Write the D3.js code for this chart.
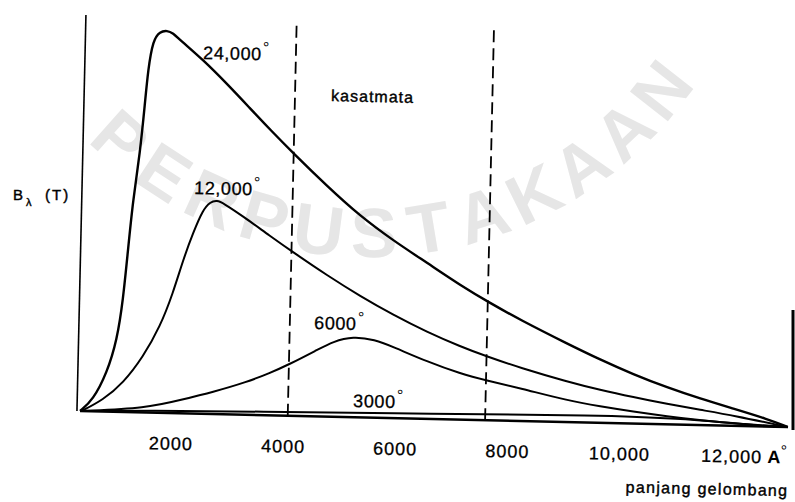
<!DOCTYPE html>
<html>
<head>
<meta charset="utf-8">
<script src="https://cdn.jsdelivr.net/npm/d3@7"></script>
<style>
body { margin: 0; background: #fff; }
svg { display: block; font-family: "Liberation Sans", Arial, sans-serif; }
</style>
</head>
<body>
<svg id="chart"></svg>
<script>
// Planck curves B_lambda(T)
// [wavelength in angstrom, intensity in arbitrary units]
var curve24000 = [[375, 0], [600, 2.8], [840, 9.7], [1006, 18], [1097, 28], [1165, 40.5],
    [1234, 53], [1340, 64.8], [1409, 77.4], [1450, 85.6], [1527, 93.2], [1648, 95.3],
    [1773, 95.6], [1880, 95], [2008, 93.3], [2425, 88.5], [2864, 82.6], [3285, 76.6],
    [3651, 71.4], [4068, 65.7], [4689, 57.6], [5290, 50.3], [5888, 44.4], [6503, 39],
    [7102, 33.6], [7643, 29.3], [8184, 25.3], [9033, 19.6], [9627, 15.8], [10223, 12.3],
    [10835, 9.2], [11428, 6.6], [12019, 4.3], [12630, 1.9], [13000, 0]];
var curve12000 = [[400, 0], [780, 2.9], [1131, 7.2], [1477, 13.9], [1767, 21.5], [1985, 30],
    [2151, 38.3], [2319, 45.2], [2486, 51], [2609, 53], [2734, 53.4], [2841, 52.8],
    [3203, 49.6], [3694, 44.8], [4109, 40.9], [4726, 35.3], [5324, 30.3], [5920, 25.8],
    [6531, 21.7], [7127, 18.3], [7612, 15.9], [8204, 13.3], [9048, 10.1], [9640, 8.2],
    [10231, 6.6], [10840, 5.1], [11432, 3.8], [12022, 2.6], [13000, 0]];
var curve6000 = [[400, 0], [1568, 1.1], [2154, 3.3], [2739, 5.5], [3341, 8.2], [3747, 10.6],
    [4066, 12.7], [4577, 16.6], [4858, 18.8], [5213, 20.2], [5600, 19.5], [5932, 17.8],
    [6544, 14.3], [7137, 11.5], [7621, 9.9], [8213, 8.2], [9057, 5.4], [9647, 4.1],
    [10237, 3], [10846, 2], [11436, 1.2], [12200, 0.5], [13000, 0]];
var curve3000 = [[400, 0], [1620, 0.5], [3400, 0.85], [6700, 1.3], [9600, 1.9],
    [11080, 1.6], [12560, 0.1], [13000, 0]];
var tempLabels = ["24,000", "12,000", "6000", "3000"];
var xTicks = [2000, 4000, 6000, 8000, 10000, 12000];
var visibleBand = [4080, 7600]; // kasatmata limits
var stampText = "PERPUSTAKAAN";

var width = 795, height = 502;

var svg = d3.select("#chart")
    .attr("width", width)
    .attr("height", height);

// faint library stamp behind the figure
var stamp = { cx: 368, cy: -140, r: 372, start: 131.6, step: 8.5 };
svg.append("g")
    .selectAll("text")
    .data(stampText.split(""))
    .enter()
    .append("text")
    .attr("transform", function (d, i) {
        var a = (stamp.start - stamp.step * i) * Math.PI / 180;
        var px = stamp.cx + stamp.r * Math.cos(a);
        var py = stamp.cy + stamp.r * Math.sin(a);
        return "translate(" + px + "," + py + ") rotate(" + (stamp.start - stamp.step * i - 90) + ")";
    })
    .attr("text-anchor", "middle")
    .attr("dy", "0.36em")
    .style("font-size", "70px")
    .style("font-weight", "bold")
    .style("fill", "#e6e6e6")
    .text(function (d) { return d; });

// the scan is tilted a little, so the whole plot is drawn in a rotated group
var g = svg.append("g")
    .attr("transform", "translate(80,411) rotate(1.3)");

var x = d3.scaleLinear().domain([0, 13000]).range([-21, 708]);
var y = d3.scaleLinear().domain([0, 100]).range([0, -400]);

// axes
g.append("line")
    .attr("x1", x(375)).attr("x2", x(13000))
    .attr("y1", y(0)).attr("y2", y(0))
    .style("stroke", "#000")
    .style("stroke-width", 2.5);
g.append("line")
    .attr("x1", x(320)).attr("x2", x(320))
    .attr("y1", y(0)).attr("y2", y(99))
    .style("stroke", "#000")
    .style("stroke-width", 1.6);

var xaxis = d3.axisBottom(x)
    .tickValues(xTicks)
    .tickSize(0)
    .tickPadding(24)
    .tickFormat(function (d) { return d >= 10000 ? d3.format(",")(d) : d; });
var gx = g.append("g").call(xaxis);
gx.select(".domain").remove();
gx.selectAll("text")
    .style("font-family", "Liberation Sans, Arial, sans-serif")
    .style("font-size", "18px")
    .style("letter-spacing", "1px")
    .style("fill", "#000")
    .style("stroke", "#000")
    .style("stroke-width", 0.3);

// visible band limits
g.selectAll("line.band")
    .data(visibleBand)
    .enter()
    .append("line")
    .attr("class", "band")
    .attr("x1", function (d) { return x(d); })
    .attr("x2", function (d) { return x(d); })
    .attr("y1", y(0))
    .attr("y2", y(98.5))
    .style("stroke", "#000")
    .style("stroke-width", 1.8)
    .style("stroke-dasharray", "12,6");

// curves
var line = d3.line()
    .x(function (d) { return x(d[0]); })
    .y(function (d) { return y(d[1]); })
    .curve(d3.curveBasis);

var curves = [curve24000, curve12000, curve6000, curve3000];
g.selectAll("path.curve")
    .data(curves)
    .enter()
    .append("path")
    .attr("class", "curve")
    .attr("d", line)
    .style("fill", "none")
    .style("stroke", "#000")
    .style("stroke-width", function (d, i) { return i == 0 ? 2.4 : 2; })
    .style("stroke-linejoin", "round");

// temperature labels, anchored in data units
var labelAt = [[2426, 88.7], [2320, 54.9], [4514, 21.8], [5242, 2.55]];
var lbl = g.selectAll("text.temp")
    .data(tempLabels)
    .enter()
    .append("text")
    .attr("class", "temp")
    .attr("x", function (d, i) { return x(labelAt[i][0]); })
    .attr("y", function (d, i) { return y(labelAt[i][1]); })
    .style("font-size", "18px")
    .style("letter-spacing", "0.6px")
    .style("stroke", "#000")
    .style("stroke-width", 0.3)
    .text(function (d) { return d; });
lbl.append("tspan")
    .attr("dy", "-0.45em")
    .attr("dx", 1)
    .style("font-size", "16px")
    .style("stroke-width", 0)
    .text("°");

g.append("text")
    .attr("x", x(4726))
    .attr("y", y(78.9))
    .style("font-size", "16px")
    .style("letter-spacing", "1px")
    .style("stroke", "#000")
    .style("stroke-width", 0.4)
    .text("kasatmata");

var unit = g.append("text")
    .attr("x", x(12650))
    .attr("y", 36.5)
    .style("font-size", "18px")
    .style("font-weight", "bold")
    .text("A");
unit.append("tspan")
    .attr("dy", "-0.45em")
    .style("font-size", "16px")
    .style("font-weight", "normal")
    .text("°");

g.append("text")
    .attr("x", x(13000) + 2)
    .attr("y", 69)
    .attr("text-anchor", "end")
    .style("font-size", "16px")
    .style("letter-spacing", "1.3px")
    .style("stroke", "#000")
    .style("stroke-width", 0.4)
    .text("panjang gelombang");

// y label
var ylab = svg.append("text")
    .attr("x", 13)
    .attr("y", 200)
    .style("font-size", "15px")
    .style("stroke", "#000")
    .style("stroke-width", 0.4)
    .text("B");
ylab.append("tspan")
    .attr("dy", 6)
    .attr("dx", 3)
    .style("font-size", "11px")
    .text("λ");
ylab.append("tspan")
    .attr("x", 45)
    .attr("dy", -6)
    .style("letter-spacing", "2px")
    .text("(T)");

// edge of the next panel at the right border
svg.append("line")
    .attr("x1", 793).attr("x2", 793)
    .attr("y1", 310).attr("y2", 430)
    .style("stroke", "#000")
    .style("stroke-width", 3);
</script>
</body>
</html>
